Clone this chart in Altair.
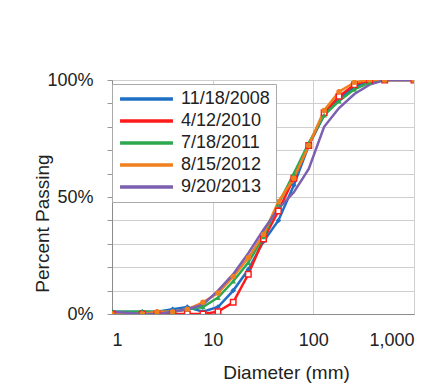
import altair as alt
import pandas as pd

sizes = [1, 2, 2.8, 4, 5.6, 8, 11.3, 16, 22.6, 32, 45, 64, 90, 128, 180, 256, 362, 512, 1000]

series_names = ["11/18/2008", "4/12/2010", "7/18/2011", "8/15/2012", "9/20/2013"]

blue = [1, 1, 1, 2, 3, 1, 3, 10, 19, 31, 40, 55, 72, 85, 92, 97, 100, 100, 100]
red = [0, 0, 0, 0, 0, 0, 1, 5, 17, 32, 44, 58, 72, 86, 93, 98, 100, 100, 100]
green = [1, 1, 1, 1, 2, 3, 7, 14, 22, 33, 47, 60, 73, 85, 91, 96, 99, 100, 100]
orange = [0, 0, 1, 1, 2, 5, 9, 16, 24, 34, 48, 58, 72, 87, 95, 99, 100, 100, 100]
purple = [1, 0, 0, 1, 2, 4, 10, 17, 26, 36, 45, 52, 62, 80, 88, 94, 98, 100, 100]

colors = ["#1f6fc4", "#ff1a1a", "#2ea84f", "#f07f1e", "#7b5fb0"]
shapes = ["diamond", "square", "triangle-up", "circle", None]
filled = [True, False, True, True, True]

rows = []
for name, vals in zip(series_names, [blue, red, green, orange, purple]):
    for d, p in zip(sizes, vals):
        rows.append({"Diameter": d, "Passing": p, "Date": name})
df = pd.DataFrame(rows)

color_scale = alt.Scale(domain=series_names, range=colors)

x = alt.X("Diameter:Q",
          scale=alt.Scale(type="log", domain=[1, 1000], nice=False),
          axis=alt.Axis(values=[1, 10, 100, 1000], format=",", title="Diameter (mm)",
                        ticks=False, labelPadding=17, gridColor="#cfcfcf",
                        titleX=174, titleY=64, titleAnchor="start", titleAlign="center",
                        titleBaseline="alphabetic",
                        titleFontSize=19, titleFontWeight="normal"))
y = alt.Y("Passing:Q",
          scale=alt.Scale(domain=[0, 100], nice=False),
          axis=alt.Axis(values=[0, 10, 20, 30, 40, 50, 60, 70, 80, 90, 100],
                        labelExpr="datum.value % 50 == 0 ? datum.value + '%' : ''",
                        title="Percent Passing", tickSize=5, labelPadding=14,
                        gridColor="#cfcfcf", tickColor="#999999",
                        titleAngle=270, titleX=-70, titleY=143, titleAlign="center",
                        titleBaseline="middle", titleFontSize=19, titleFontWeight="normal"))

base = alt.Chart(df).encode(x=x, y=y)

lines = base.mark_line(strokeWidth=2.5, clip=True).encode(
    color=alt.Color("Date:N", scale=color_scale, sort=series_names,
                    legend=alt.Legend(title=None, orient="none", legendX=0, legendY=4,
                                      symbolType="stroke", symbolSize=2800,
                                      symbolStrokeWidth=3.5, labelFontSize=18,
                                      labelOffset=6, rowPadding=4, padding=6,
                                      clipHeight=18,
                                      fillColor="white", strokeColor="#aaaaaa",
                                      labelColor="#222222"))
)

layers = [lines]
for name, col, shp, fl in zip(series_names, colors, shapes, filled):
    if shp is None:
        continue
    layers.append(
        base.transform_filter(alt.datum.Date == name).mark_point(
            shape=shp, size=30, filled=fl, color=col, strokeWidth=1.5, opacity=1,
            fill=col if fl else "white", clip=True)
    )

chart = alt.layer(*layers).properties(
    width=302, height=234,
    padding={"left": 104, "top": 72, "right": 20, "bottom": 70},
    autosize=alt.AutoSizeParams(type="none"),
    background="white",
).configure_axis(
    labelFont="Liberation Sans", titleFont="Liberation Sans", labelFontSize=18,
    labelColor="#222222", titleColor="#222222", domainColor="#8c8c8c"
).configure_legend(
    labelFont="Liberation Sans"
).configure_view(stroke="#8c8c8c")

chart.save("out.html", embed_options={"renderer": "svg", "actions": False})
